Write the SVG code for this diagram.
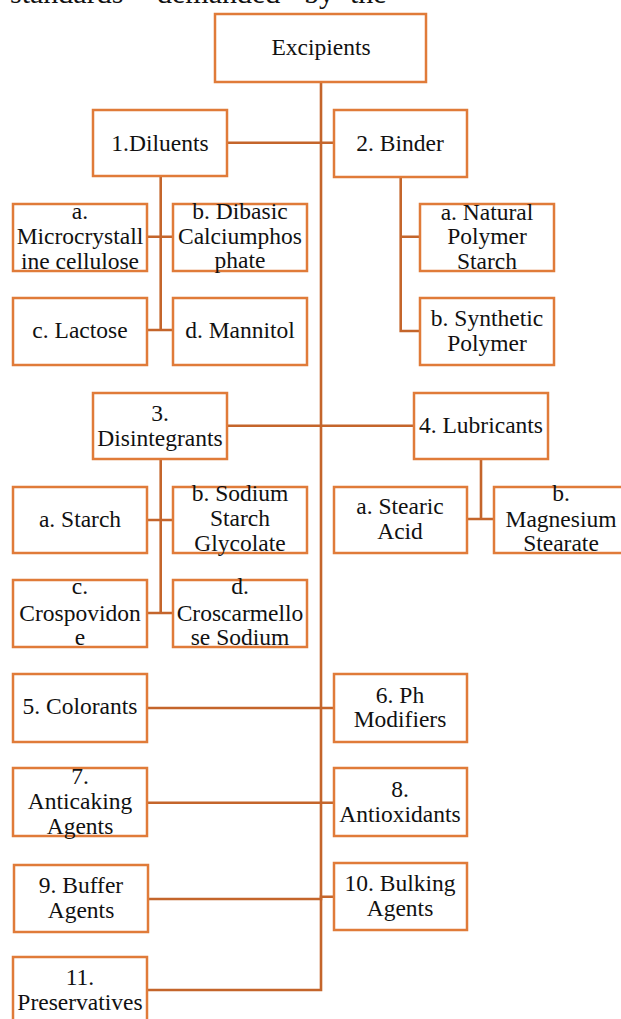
<svg xmlns="http://www.w3.org/2000/svg" width="621" height="1019" viewBox="0 0 621 1019">
<style>
.box{fill:#fff;stroke:#E07B39;stroke-width:2.5}
.ln{fill:none;stroke:#C4652B;stroke-width:2.6}
text{font-family:"Liberation Serif","Times New Roman",serif;font-size:23.5px;fill:#111;text-anchor:middle}
.top{font-size:30px;text-anchor:start}
</style>
<rect width="621" height="1019" fill="#fff"/>
<g id="header-text">
<text class="top" x="10" y="3">standards</text>
<text class="top" x="157" y="3">demanded</text>
<text class="top" x="304" y="3">by</text>
<text class="top" x="350" y="3">the</text>
</g>
<g id="connectors">
<path class="ln" d="M321 82 V990 H147"/>
<path class="ln" d="M227 142.7 H334"/>
<path class="ln" d="M160.7 176 V330 M147 236.7 H173 M147 330 H173"/>
<path class="ln" d="M400.7 177 V331 H420 M400.7 236.7 H420"/>
<path class="ln" d="M227 425.7 H414"/>
<path class="ln" d="M160.7 459 V613 M147 520 H173 M147 613 H173"/>
<path class="ln" d="M481 459 V519 M467 519 H494"/>
<path class="ln" d="M147 708 H334"/>
<path class="ln" d="M147 802.7 H334"/>
<path class="ln" d="M148 899 H321 V896.7 H334"/>
</g>
<g id="excipients"><rect class="box" x="215" y="14" width="211" height="68"/><text x="321" y="55">Excipients</text></g>
<g id="diluents"><rect class="box" x="93" y="110" width="134" height="66"/><text x="160" y="151">1.Diluents</text></g>
<g id="binder"><rect class="box" x="334" y="110" width="133" height="67"/><text x="400" y="151">2. Binder</text></g>
<g id="microcrystalline"><rect class="box" x="13" y="204" width="134" height="67"/><text x="80" y="219">a.</text><text x="80" y="244">Microcrystall</text><text x="80" y="269">ine cellulose</text></g>
<g id="dibasic"><rect class="box" x="173" y="204" width="134" height="67"/><text x="240" y="219">b. Dibasic</text><text x="240" y="244">Calciumphos</text><text x="240" y="268">phate</text></g>
<g id="lactose"><rect class="box" x="13" y="298" width="134" height="67"/><text x="80" y="338">c. Lactose</text></g>
<g id="mannitol"><rect class="box" x="173" y="298" width="134" height="67"/><text x="240" y="338">d. Mannitol</text></g>
<g id="natural-polymer"><rect class="box" x="420" y="204" width="134" height="67"/><text x="487" y="220">a. Natural</text><text x="487" y="244">Polymer</text><text x="487" y="269">Starch</text></g>
<g id="synthetic-polymer"><rect class="box" x="420" y="298" width="134" height="67"/><text x="487" y="326">b. Synthetic</text><text x="487" y="351">Polymer</text></g>
<g id="disintegrants"><rect class="box" x="93" y="393" width="134" height="66"/><text x="160" y="421">3.</text><text x="160" y="446">Disintegrants</text></g>
<g id="lubricants"><rect class="box" x="414" y="393" width="134" height="66"/><text x="481" y="433">4. Lubricants</text></g>
<g id="starch"><rect class="box" x="13" y="487" width="134" height="66"/><text x="80" y="527">a. Starch</text></g>
<g id="sodium-starch-glycolate"><rect class="box" x="173" y="487" width="134" height="66"/><text x="240" y="501">b. Sodium</text><text x="240" y="526">Starch</text><text x="240" y="551">Glycolate</text></g>
<g id="crospovidone"><rect class="box" x="13" y="580" width="134" height="67"/><text x="80" y="594">c.</text><text x="80" y="621">Crospovidon</text><text x="80" y="645">e</text></g>
<g id="croscarmellose"><rect class="box" x="173" y="580" width="134" height="67"/><text x="240" y="594">d.</text><text x="240" y="621">Croscarmello</text><text x="240" y="645">se Sodium</text></g>
<g id="stearic-acid"><rect class="box" x="334" y="487" width="133" height="66"/><text x="400" y="514">a. Stearic</text><text x="400" y="539">Acid</text></g>
<g id="magnesium-stearate"><rect class="box" x="494" y="487" width="134" height="66"/><text x="561" y="501">b.</text><text x="561" y="527">Magnesium</text><text x="561" y="551">Stearate</text></g>
<g id="colorants"><rect class="box" x="13" y="674" width="134" height="68"/><text x="80" y="714">5. Colorants</text></g>
<g id="ph-modifiers"><rect class="box" x="334" y="674" width="133" height="68"/><text x="400" y="703">6. Ph</text><text x="400" y="727">Modifiers</text></g>
<g id="anticaking"><rect class="box" x="13" y="768" width="134" height="68"/><text x="80" y="784">7.</text><text x="80" y="809">Anticaking</text><text x="80" y="834">Agents</text></g>
<g id="antioxidants"><rect class="box" x="334" y="768" width="133" height="68"/><text x="400" y="797">8.</text><text x="400" y="822">Antioxidants</text></g>
<g id="buffer"><rect class="box" x="14" y="865" width="134" height="67"/><text x="81" y="893">9. Buffer</text><text x="81" y="918">Agents</text></g>
<g id="bulking"><rect class="box" x="334" y="863" width="133" height="67"/><text x="400" y="891">10. Bulking</text><text x="400" y="916">Agents</text></g>
<g id="preservatives"><rect class="box" x="13" y="957" width="134" height="70"/><text x="80" y="985">11.</text><text x="80" y="1010">Preservatives</text></g>
</svg>
